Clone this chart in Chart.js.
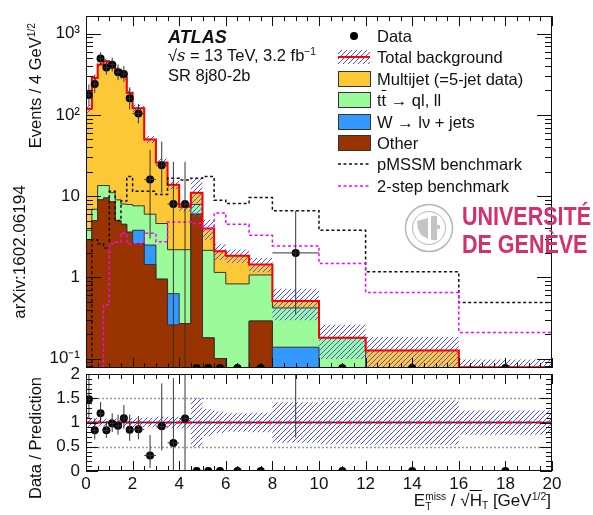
<!DOCTYPE html>
<html>
<head>
<meta charset="utf-8">
<script src="https://cdn.jsdelivr.net/npm/chart.js@4.4.1/dist/chart.umd.min.js"></script>
<style>
  body { margin: 0; background: #fff; }
  #page { position: relative; width: 593px; height: 515px; overflow: hidden; background: #fff;
          font-family: "Liberation Sans", Arial, Helvetica, sans-serif; color: #111; }
  canvas { position: absolute; left: 0; top: 0; }
  .t { position: absolute; white-space: nowrap; font-size: 16.5px; line-height: 1; }
  .rot { transform-origin: 0 0; transform: rotate(-90deg) translate(-100%, -50%); }
  sup { font-size: 0.62em; vertical-align: 0.55em; line-height: 0; }
  .leg { position: absolute; left: 338px; height: 18px; }
  .leg svg { position: absolute; left: 0; top: 1px; }
  .leg > span { position: absolute; left: 39px; top: 1px; white-space: nowrap; font-size: 16.5px; line-height: 16px; }
  .ss { display: inline-block; vertical-align: middle; line-height: 0.9; font-size: 0.6em; text-align: left; }
</style>
</head>
<body>
<div id="page">
  <canvas id="mainCanvas" width="593" height="515"></canvas>
  <canvas id="ratioCanvas" width="593" height="515"></canvas>

  <div class="t rot" style="left:35px; top:23px;">Events / 4 GeV<sup>1/2</sup></div>
  <div class="t rot" style="left:35px; top:377px;">Data / Prediction</div>
  <div class="t" style="left:19px; top:252px; transform: translate(-50%,-50%) rotate(-90deg); font-size:17px;">arXiv:1602.06194</div>

  <div class="t" style="left:168px; top:28px; font-weight:bold; font-style:italic; font-size:18px;">ATLAS</div>
  <div class="t" style="left:168px; top:47px;">&#8730;<i style="font-family:'DejaVu Serif',serif;">s</i> = 13 TeV, 3.2 fb<sup>&#8722;1</sup></div>
  <div class="t" style="left:168px; top:67px;">SR 8j80-2b</div>

  <div id="legend"></div>

  <div class="t" style="right:42px; top:492px; font-size:17px;">E<span class="ss">miss<br>T</span> / &#8730;<span style="text-decoration:overline;">H<span class="ss" style="vertical-align:-0.3em;">T</span></span> [GeV<sup>1/2</sup>]</div>

  <svg style="position:absolute; left:404px; top:203px;" width="50" height="50" viewBox="0 0 50 50">
    <circle cx="25" cy="25" r="23.5" fill="none" stroke="#b5b5b5" stroke-width="1.5"/>
    <circle cx="25" cy="25" r="16.5" fill="none" stroke="#b5b5b5" stroke-width="1"/>
    <path d="M13 18 L24 15 L24 36 L17 32 L14 26 Z" fill="#c4c4c4"/>
    <path d="M27 13 L33 13 L33 22 L36 22 L36 26 L33 26 L33 37 L27 37 Z" fill="#c4c4c4"/>
  </svg>
  <div class="t" style="left:462px; top:204px; font-weight:bold; font-size:25px; color:#d4306d; transform:scaleX(0.86); transform-origin:0 0;">UNIVERSIT&Eacute;</div>
  <div class="t" style="left:462px; top:232px; font-weight:bold; font-size:25px; color:#d4306d; transform:scaleX(0.86); transform-origin:0 0;">DE GEN&Egrave;VE</div>
</div>

<script>
// bin edges in ETmiss/sqrt(HT) [GeV^1/2]
const binEdges = [0, 0.25, 0.5, 0.75, 1, 1.25, 1.5, 1.75, 2, 2.5, 3, 3.5, 4, 4.5, 5, 5.5, 6, 7, 8, 10, 12, 16, 20];

// background yields per bin (events / 4 GeV^1/2)
const otherBkg = [2.9, 5.0, 9.0, 9.5, 8.5, 5.0, 4.5, 3.6, 2.6, 1.44, 0.95, 0.26, 0.27, 6.0, 0.18, 0.10, 0.03, 0.29, 0.02, 0.02, 0.02, 0.02];
const wJets    = [0, 0, 0, 0, 0, 0, 0, 0, 1.2, 1.06, 0, 0.37, 0, 0, 0, 0, 0, 0, 0.118, 0.01, 0.02, 0.01];
const ttbar    = [0.9, 1.9, 4.5, 4.0, 2.5, 4.0, 3.5, 4.3, 3.8, 3.5, 3.65, 1.56, 1.92, 1.9, 1.97, 1.05, 0.80, 0.78, 0.282, 0.15, 0, 0.01];
const multijet = [115.2, 279.1, 403.5, 444.5, 414, 351, 286, 180.1, 113.4, 44.0, 21.4, 11.61, 5.21, 3.1, 1.85, 0.94, 1.02, 0.37, 0.09, 0, 0.086, 0.038];
const bkgRelUnc = [0.12, 0.10, 0.08, 0.08, 0.08, 0.08, 0.09, 0.10, 0.10, 0.10, 0.12, 0.12, 0.12, 0.50, 0.28, 0.22, 0.19, 0.20, 0.42, 0.45, 0.46, 0.25];

// signal benchmarks
const pmssm   = [0.078, 2.9, 2.6, 2.3, 11.5, 5.0, 8.7, 17.4, 11.5, 11.5, 10.5, 16.6, 15.8, 16.6, 17.4, 8.9, 8.1, 9.6, 6.6, 3.8, 1.17, 0.49];
const twoStep = [0.078, 0.078, 0.078, 0.46, 2.6, 2.7, 3.5, 2.6, 2.6, 3.5, 2.75, 4.8, 4.8, 4.6, 4.0, 6.2, 4.5, 3.3, 2.44, 1.48, 0.65, 0.21];

// observed data with asymmetric errors
const dataObs  = [176, 240, 496, 384, 416, 336, 320, 160, 104, 16, 24, 8, 8, 0, 0, 0, 0, 0, 2, 0, 0, 0];
const dataLow  = [130, 186, 415, 313, 342, 270, 256, 117, 79, 3, 11, 0.001, 0.001, 0, 0, 0, 0, 0, 0.35, 0, 0, 0];
const dataHigh = [238, 310, 593, 471, 506, 418, 400, 219, 137, 37, 47, 26.4, 26.4, 0, 0, 0, 0, 0, 6.6, 0, 0, 0];

const yTickValues = [0.1, 1, 10, 100, 1000];
const yTickLabels = ['10\u207B\u00B9', '1', '10', '10\u00B2', '10\u00B3'];
const ratioTickValues = [0, 0.5, 1, 1.5, 2];
const ratioTickLabels = ['0', '0.5', '1', '1.5', '2'];

const Y_MIN = 0.0765, Y_MAX = 1644;
const HATCH_BLUE = 'rgb(75,75,255)';

Chart.defaults.font.family = "'Liberation Sans', Arial, Helvetica, sans-serif";
Chart.defaults.font.size = 17;
Chart.defaults.color = '#111';

// stacked sums for drawing
const cumOther = otherBkg.slice();
const cumW = cumOther.map((v, i) => v + wJets[i]);
const cumTT = cumW.map((v, i) => v + ttbar[i]);
const totalBkg = cumTT.map((v, i) => v + multijet[i]);
const bandHi = totalBkg.map((v, i) => v * (1 + bkgRelUnc[i]));
const bandLo = totalBkg.map((v, i) => v * (1 - bkgRelUnc[i]));
const ratioHi = bkgRelUnc.map(u => 1 + u);
const ratioLo = bkgRelUnc.map(u => 1 - u);
const centers = binEdges.slice(0, -1).map((e, i) => (e + binEdges[i + 1]) / 2);

function steps(vals) {
  const pts = vals.map((v, i) => ({ x: binEdges[i], y: Math.max(v, 1e-3) }));
  pts.push({ x: binEdges[binEdges.length - 1], y: Math.max(vals[vals.length - 1], 1e-3) });
  return pts;
}

function hatch(ctx) {
  const c = document.createElement('canvas');
  c.width = 5; c.height = 5;
  const g = c.getContext('2d');
  g.strokeStyle = HATCH_BLUE;
  g.lineWidth = 1;
  g.beginPath();
  g.moveTo(0, 5); g.lineTo(5, 0);
  g.moveTo(-1, 1); g.lineTo(1, -1);
  g.moveTo(4, 6); g.lineTo(6, 4);
  g.stroke();
  return ctx.createPattern(c, 'repeat');
}

// ROOT-style frame with inward ticks on all four sides
function frameTicks(xTicks, yTicks) {
  return {
    id: 'frameTicks',
    afterDraw(chart) {
      const { ctx, chartArea: a, scales } = chart;
      ctx.save();
      ctx.strokeStyle = '#111';
      ctx.lineWidth = 1;
      ctx.beginPath();
      xTicks.forEach(([v, len]) => {
        const px = Math.round(scales.x.getPixelForValue(v)) + 0.5;
        ctx.moveTo(px, a.bottom); ctx.lineTo(px, a.bottom - len);
        ctx.moveTo(px, a.top); ctx.lineTo(px, a.top + len);
      });
      yTicks.forEach(([v, len]) => {
        const py = Math.round(scales.y.getPixelForValue(v)) + 0.5;
        ctx.moveTo(a.left, py); ctx.lineTo(a.left + len, py);
        ctx.moveTo(a.right, py); ctx.lineTo(a.right - len, py);
      });
      ctx.stroke();
      ctx.strokeRect(Math.round(a.left) + 0.5, Math.round(a.top) + 0.5, Math.round(a.width) - 1, Math.round(a.height) - 1);
      ctx.restore();
    }
  };
}

function errorBars(points) {
  return {
    id: 'errorBars',
    afterDatasetsDraw(chart) {
      const { ctx, chartArea: a, scales: { x, y } } = chart;
      ctx.save();
      ctx.beginPath();
      ctx.rect(a.left, a.top, a.width, a.height);
      ctx.clip();
      ctx.strokeStyle = '#333';
      ctx.lineWidth = 1;
      ctx.beginPath();
      points.forEach(p => {
        const px = x.getPixelForValue(p.x);
        const py = y.getPixelForValue(p.y);
        ctx.moveTo(x.getPixelForValue(p.x0), py);
        ctx.lineTo(x.getPixelForValue(p.x1), py);
        ctx.moveTo(px, y.getPixelForValue(p.lo));
        ctx.lineTo(px, y.getPixelForValue(p.hi));
      });
      ctx.stroke();
      ctx.restore();
    }
  };
}

const xTickList = [];
for (let v = 0; v <= 20.001; v += 0.5) xTickList.push([v, Math.abs(v / 2 - Math.round(v / 2)) < 1e-6 ? 10 : 5]);
const logTickList = [];
for (let d = -2; d <= 3; d++) {
  for (let m = 1; m <= 9; m++) {
    const v = m * Math.pow(10, d);
    if (v >= Y_MIN && v <= Y_MAX) logTickList.push([v, m === 1 ? 15 : 7]);
  }
}
const ratioYTickList = [];
for (let k = 0; k <= 20; k++) ratioYTickList.push([k / 10, k % 5 === 0 ? 12 : 6]);

const mainCtx = document.getElementById('mainCanvas').getContext('2d');
const hatchFill = hatch(mainCtx);

const mainPoints = [];
dataObs.forEach((v, i) => {
  if (v > 0) mainPoints.push({ x: centers[i], y: v, x0: binEdges[i], x1: binEdges[i + 1],
                                lo: Math.max(dataLow[i], 1e-3), hi: dataHigh[i] });
});

const lineBase = { fill: false, stepped: true, pointRadius: 0, borderWidth: 1 };

new Chart(mainCtx, {
  type: 'line',
  data: {
    datasets: [
      { ...lineBase, data: steps(totalBkg), backgroundColor: '#FDC835', borderColor: '#333', fill: 'start', order: 20 },
      { ...lineBase, data: steps(cumTT), backgroundColor: '#9BFB9B', borderColor: '#333', fill: 'start', order: 19 },
      { ...lineBase, data: steps(cumW), backgroundColor: '#3399FF', borderColor: '#333', fill: 'start', order: 18 },
      { ...lineBase, data: steps(cumOther), backgroundColor: '#993300', borderColor: '#333', fill: 'start', order: 17 },
      { ...lineBase, data: steps(bandHi), backgroundColor: hatchFill, borderColor: 'transparent', borderWidth: 0, fill: 5, order: 16 },
      { ...lineBase, data: steps(bandLo), borderColor: 'transparent', borderWidth: 0, order: 15 },
      { ...lineBase, data: steps(totalBkg), borderColor: '#FF0000', borderWidth: 2, order: 14 },
      { ...lineBase, data: steps(pmssm), borderColor: '#111', borderWidth: 1.5, borderDash: [3, 2.5], order: 13 },
      { ...lineBase, data: steps(twoStep), borderColor: '#FF00FF', borderWidth: 1.5, borderDash: [3, 2.5], order: 12 },
      { data: dataObs.map((v, i) => ({ x: centers[i], y: v > 0 ? v : Y_MIN })), showLine: false,
        pointRadius: 4, pointBackgroundColor: '#000', pointBorderWidth: 0, order: 1 }
    ]
  },
  options: {
    responsive: false, animation: false, events: [],
    layout: { padding: { left: 0, right: 41, top: 7, bottom: 147 }, autoPadding: false },
    plugins: { legend: { display: false }, tooltip: { enabled: false } },
    scales: {
      x: { type: 'linear', min: 0, max: 20, display: false },
      y: {
        type: 'logarithmic', min: Y_MIN, max: Y_MAX,
        afterBuildTicks: s => { s.ticks = yTickValues.map(v => ({ value: v })); },
        afterFit: s => { s.width = 86; },
        grid: { display: false, drawTicks: false }, border: { display: false },
        ticks: { autoSkip: false, padding: 6, callback: v => yTickLabels[yTickValues.indexOf(v)] ?? '' }
      }
    }
  },
  plugins: [errorBars(mainPoints), frameTicks(xTickList, logTickList)]
});

// ratio panel
const ratioPoints = [];
const ratioVals = dataObs.map((v, i) => v / totalBkg[i]);
dataObs.forEach((v, i) => {
  if (v > 0) ratioPoints.push({ x: centers[i], y: ratioVals[i], x0: binEdges[i], x1: binEdges[i + 1],
                                 lo: dataLow[i] / totalBkg[i], hi: dataHigh[i] / totalBkg[i] });
});

const refLines = {
  id: 'refLines',
  beforeDatasetsDraw(chart) {
    const { ctx, chartArea: a, scales: { y } } = chart;
    ctx.save();
    ctx.strokeStyle = '#9a9a9a';
    ctx.lineWidth = 1.5;
    ctx.setLineDash([2, 2]);
    ctx.beginPath();
    [0.5, 1.5].forEach(v => {
      const py = Math.round(y.getPixelForValue(v)) + 0.5;
      ctx.moveTo(a.left, py); ctx.lineTo(a.right, py);
    });
    ctx.stroke();
    ctx.restore();
  }
};

new Chart(document.getElementById('ratioCanvas'), {
  type: 'line',
  data: {
    datasets: [
      { ...lineBase, data: steps(ratioHi), backgroundColor: hatchFill, borderColor: 'transparent', borderWidth: 0, fill: 1, order: 10 },
      { ...lineBase, data: steps(ratioLo), borderColor: 'transparent', borderWidth: 0, order: 9 },
      { ...lineBase, stepped: false, data: [{ x: 0, y: 1 }, { x: 20, y: 1 }], borderColor: '#1a1a6e', borderWidth: 1.5, order: 8 },
      { ...lineBase, stepped: false, data: [{ x: 0, y: 1 }, { x: 20, y: 1 }], borderColor: '#FF0000', borderWidth: 2, borderDash: [6, 4], order: 7 },
      { data: ratioVals.map((v, i) => ({ x: centers[i], y: v })), showLine: false,
        pointRadius: 4, pointBackgroundColor: '#000', pointBorderWidth: 0, order: 1 }
    ]
  },
  options: {
    responsive: false, animation: false, events: [],
    layout: { padding: { left: 0, right: 41, top: 374, bottom: 0 }, autoPadding: false },
    plugins: { legend: { display: false }, tooltip: { enabled: false } },
    scales: {
      x: {
        type: 'linear', min: 0, max: 20,
        afterBuildTicks: s => { s.ticks = [0, 2, 4, 6, 8, 10, 12, 14, 16, 18, 20].map(v => ({ value: v })); },
        afterFit: s => { s.height = 44; },
        grid: { display: false, drawTicks: false }, border: { display: false },
        ticks: { autoSkip: false, maxRotation: 0, padding: 3 }
      },
      y: {
        type: 'linear', min: 0, max: 2,
        afterBuildTicks: s => { s.ticks = ratioTickValues.map(v => ({ value: v })); },
        afterFit: s => { s.width = 86; },
        grid: { display: false, drawTicks: false }, border: { display: false },
        ticks: { autoSkip: false, padding: 6, callback: v => ratioTickLabels[ratioTickValues.indexOf(v)] ?? '' }
      }
    }
  },
  plugins: [refLines, errorBars(ratioPoints), frameTicks(xTickList, ratioYTickList)]
});

// legend inside the main frame
const legendRows = [
  { label: 'Data', sym: '<circle cx="16" cy="8" r="4" fill="#000"/>' },
  { label: 'Total background', sym: '<rect x="0" y="1" width="32" height="14" fill="url(#hp)"/><line x1="0" y1="8" x2="32" y2="8" stroke="#f00" stroke-width="2"/>' },
  { label: 'Multijet (=5-jet data)', sym: '<rect x="0.5" y="0.5" width="32" height="15" fill="#FDC835" stroke="#333"/>' },
  { label: 't<span style="text-decoration:overline">t</span> \u2192 ql, ll', sym: '<rect x="0.5" y="0.5" width="32" height="15" fill="#9BFB9B" stroke="#333"/>' },
  { label: 'W \u2192 l\u03BD + jets', sym: '<rect x="0.5" y="0.5" width="32" height="15" fill="#3399FF" stroke="#333"/>' },
  { label: 'Other', sym: '<rect x="0.5" y="0.5" width="32" height="15" fill="#993300" stroke="#333"/>' },
  { label: 'pMSSM benchmark', sym: '<line x1="0" y1="8" x2="32" y2="8" stroke="#111" stroke-width="1.5" stroke-dasharray="3 2.5"/>' },
  { label: '2-step benchmark', sym: '<line x1="0" y1="8" x2="32" y2="8" stroke="#FF00FF" stroke-width="1.5" stroke-dasharray="3 2.5"/>' }
];
const legendBox = document.getElementById('legend');
legendRows.forEach((r, i) => {
  const row = document.createElement('div');
  row.className = 'leg';
  row.style.top = (27 + i * 21.4) + 'px';
  row.innerHTML = '<svg width="34" height="17"><defs><pattern id="hp' + i + '" width="5" height="5" patternUnits="userSpaceOnUse">' +
    '<path d="M0 5 L5 0 M-1 1 L1 -1 M4 6 L6 4" stroke="' + HATCH_BLUE + '" stroke-width="1"/></pattern></defs>' +
    r.sym.replace('url(#hp)', 'url(#hp' + i + ')') + '</svg>' +
    '<span>' + r.label + '</span>';
  legendBox.appendChild(row);
});
</script>
</body>
</html>
